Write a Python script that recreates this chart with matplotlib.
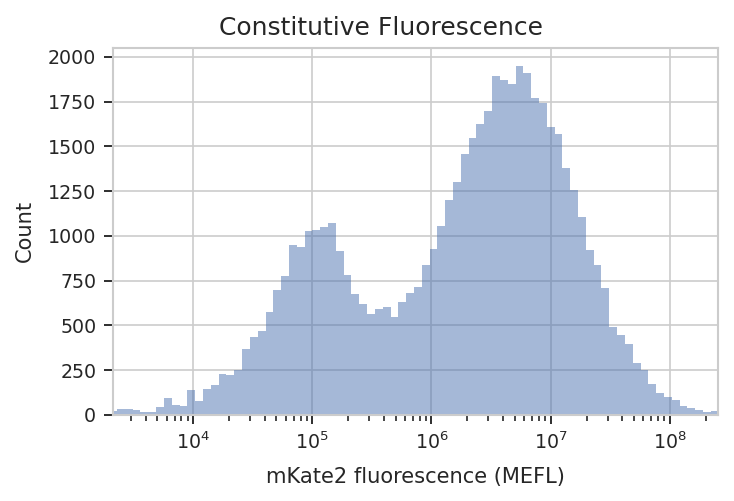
import numpy as np
import matplotlib
matplotlib.use('Agg')
import matplotlib.pyplot as plt
import seaborn as sns

# histogram counts (log-spaced bins, left to right)
counts = [22, 30, 33, 26, 15, 15, 43, 93, 54, 48,
          137, 78, 143, 165, 226, 220, 252, 370, 437, 470,
          576, 698, 776, 948, 937, 1026, 1031, 1048, 1070, 915,
          781, 676, 620, 565, 593, 604, 548, 632, 681, 715,
          838, 926, 1055, 1200, 1300, 1458, 1547, 1625, 1698, 1894,
          1871, 1849, 1950, 1910, 1771, 1743, 1609, 1570, 1380, 1257,
          1106, 920, 837, 709, 493, 448, 398, 287, 248, 170,
          120, 98, 81, 48, 37, 26, 15, 20]
log_first_edge = 3.2972   # log10 of the first bin edge
log_bin_width = 0.06554   # bin width in decades

title = 'Constitutive Fluorescence'
xlabel = 'mKate2 fluorescence (MEFL)'
ylabel = 'Count'

sns.set_theme(style='whitegrid', context='paper')
plt.rcParams.update({
    'xtick.bottom': True, 'ytick.left': True,
    'axes.edgecolor': '#cccccc', 'grid.color': '#cccccc',
})

edges = 10 ** (log_first_edge + log_bin_width * np.arange(len(counts) + 1))
centers = np.sqrt(edges[:-1] * edges[1:])

fig = plt.figure(figsize=(734 / 150, 501 / 150), dpi=150)
ax = fig.add_axes([0.154, 0.172, 0.824, 0.733])
ax.hist(centers, bins=edges, weights=counts, color='#4c72b0', alpha=0.5,
        linewidth=0)
ax.set_xscale('log')
ax.set_xlim(10 ** 3.329, 10 ** 8.4025)
ax.set_ylim(0, 2052)
ax.set_yticks(np.arange(0, 2001, 250))
ax.tick_params(axis='both', which='major', labelsize=9.1, length=4.5,
               width=0.9, color='#262626', labelcolor='#262626')
ax.tick_params(axis='x', which='minor', length=2.9, width=0.8,
               color='#262626', bottom=True)
# figure-level title (sits left of the axes centre, like the cropped original)
fig.text(381 / 734, 1 - 35 / 501, title, fontsize=12, color='#262626',
         ha='center', va='baseline')
ax.set_xlabel(xlabel, fontsize=10.1, color='#262626', labelpad=6.5)
ax.set_ylabel(ylabel, fontsize=10.1, color='#262626', labelpad=6)
ax.grid(True, which='major')

fig.savefig('out.png', dpi=150)
